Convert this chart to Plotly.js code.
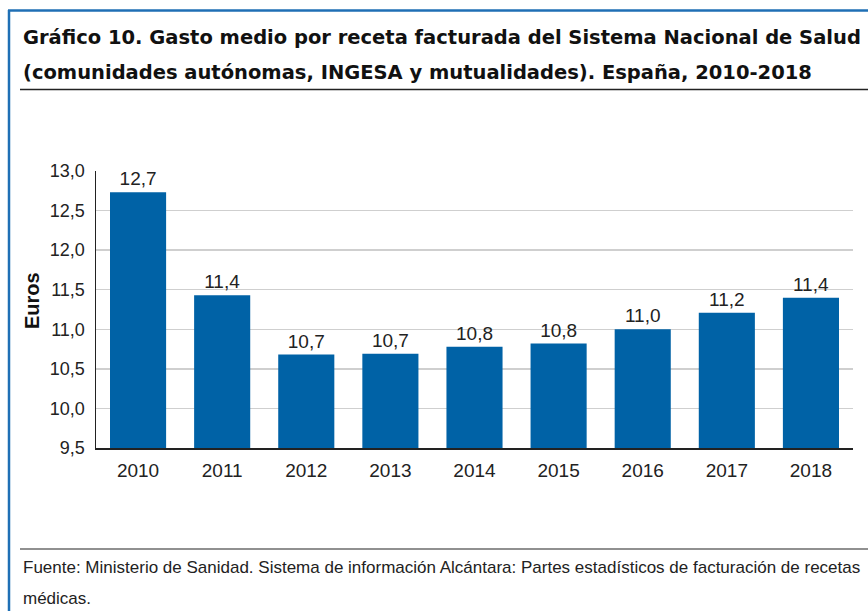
<!DOCTYPE html>
<html>
<head>
<meta charset="utf-8">
<script src="https://cdn.plot.ly/plotly-3.0.1.min.js"></script>
<style>
html,body{margin:0;padding:0;background:#fff;}
#chart{width:868px;height:611px;}
</style>
</head>
<body>
<div id="chart"></div>
<script>
// Data
const years = ['2010','2011','2012','2013','2014','2015','2016','2017','2018'];
const gastoMedio = [12.73, 11.43, 10.68, 10.69, 10.78, 10.82, 11.0, 11.21, 11.40];
const yTicks = [9.5, 10.0, 10.5, 11.0, 11.5, 12.0, 12.5, 13.0];
const yTitle = 'Euros';
const titleLines = [
  'Gráfico 10. Gasto medio por receta facturada del Sistema Nacional de Salud',
  '(comunidades autónomas, INGESA y mutualidades). España, 2010-2018'
];
const sourceLines = [
  'Fuente: Ministerio de Sanidad. Sistema de información Alcántara: Partes estadísticos de facturación de recetas',
  'médicas.'
];

const W = 868, H = 611;
const M = {l: 96, r: 15, t: 171, b: 163};
const PW = W - M.l - M.r, PH = H - M.t - M.b;
const px = x => (x - M.l) / PW;
const py = y => (H - M.b - y) / PH;

const FONT = 'Liberation Sans, Arial, Helvetica, sans-serif';
const TFONT = 'DejaVu Sans, Liberation Sans, Arial, sans-serif';
const BLUE = '#0062a6';

const trace = {
  type: 'bar',
  x: years,
  y: gastoMedio,
  marker: {color: BLUE},
  texttemplate: '%{y:.1f}',
  textposition: 'outside',
  textfont: {family: FONT, size: 19, color: '#222'},
  cliponaxis: false,
  hoverinfo: 'skip'
};

const shapes = [
  {type: 'line', xref: 'paper', yref: 'paper', x0: px(8), x1: px(868), y0: py(10.5), y1: py(10.5), line: {color: '#1f6fb5', width: 2.5}},
  {type: 'line', xref: 'paper', yref: 'paper', x0: px(9), x1: px(9), y0: py(10), y1: py(611), line: {color: '#1f6fb5', width: 2.5}},
  {type: 'line', xref: 'paper', yref: 'paper', x0: px(20), x1: px(868), y0: py(89.5), y1: py(89.5), line: {color: '#222', width: 1.5}},
  {type: 'line', xref: 'paper', yref: 'paper', x0: px(20), x1: px(868), y0: py(549), y1: py(549), line: {color: '#222', width: 1.2}}
];

const annotations = [
  {text: titleLines[0], xref: 'paper', yref: 'paper', x: px(21), y: py(37), xanchor: 'left', yanchor: 'middle', showarrow: false,
   font: {family: TFONT, size: 19.5, color: '#111', weight: 'bold'}},
  {text: titleLines[1], xref: 'paper', yref: 'paper', x: px(21), y: py(72), xanchor: 'left', yanchor: 'middle', showarrow: false,
   font: {family: TFONT, size: 19.5, color: '#111', weight: 'bold'}},
  {text: sourceLines[0], xref: 'paper', yref: 'paper', x: px(21), y: py(567), xanchor: 'left', yanchor: 'middle', showarrow: false,
   font: {family: FONT, size: 17, color: '#222'}},
  {text: sourceLines[1], xref: 'paper', yref: 'paper', x: px(21), y: py(598), xanchor: 'left', yanchor: 'middle', showarrow: false,
   font: {family: FONT, size: 17, color: '#222'}},
  {text: yTitle, xref: 'paper', yref: 'paper', x: px(32), y: py(301), xanchor: 'center', yanchor: 'middle', textangle: -90, showarrow: false,
   font: {family: FONT, size: 20, color: '#111', weight: 'bold'}}
];

const layout = {
  width: W, height: H,
  margin: M,
  paper_bgcolor: '#fff',
  plot_bgcolor: '#fff',
  separators: ',.',
  showlegend: false,
  bargap: 0.333,
  font: {family: FONT, color: '#222'},
  xaxis: {
    type: 'category',
    showline: true, linecolor: '#222', linewidth: 1.5,
    showgrid: false, ticks: '',
    tickfont: {family: FONT, size: 19, color: '#222'},
    ticklabelstandoff: 5,
    fixedrange: true
  },
  yaxis: {
    range: [9.5, 13.0],
    tickvals: yTicks,
    tickformat: '.1f',
    showline: true, linecolor: '#222', linewidth: 1.5,
    showgrid: true, gridcolor: '#cfcfcf', gridwidth: 1.5,
    zeroline: false, ticks: '',
    tickfont: {family: FONT, size: 18, color: '#222'},
    ticklabelstandoff: 6,
    fixedrange: true
  },
  shapes: shapes,
  annotations: annotations
};

Plotly.newPlot('chart', [trace], layout, {displayModeBar: false, staticPlot: true});
</script>
</body>
</html>
